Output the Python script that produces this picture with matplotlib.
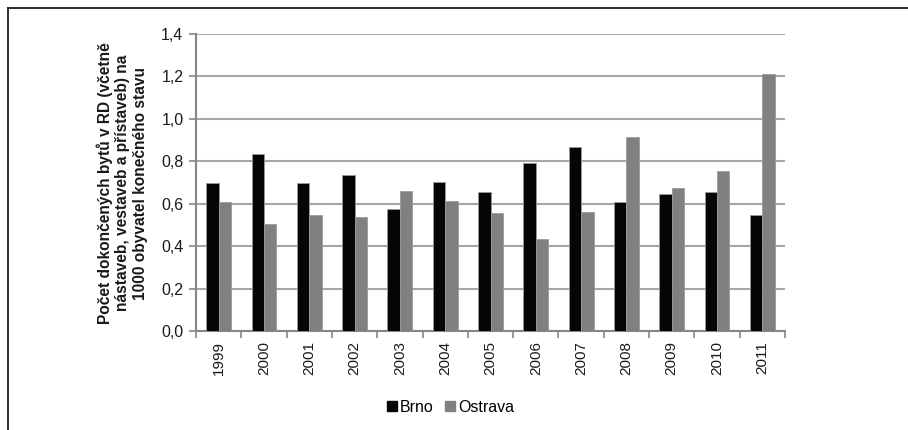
import numpy as np
import matplotlib.pyplot as plt
from matplotlib.lines import Line2D

plt.rcParams['font.family'] = ['Liberation Sans', 'DejaVu Sans']

# Počet dokončených bytů v RD na 1000 obyvatel
roky = ['1999', '2000', '2001', '2002', '2003', '2004', '2005',
        '2006', '2007', '2008', '2009', '2010', '2011']
brno = [0.70, 0.832, 0.70, 0.735, 0.573, 0.703, 0.656,
        0.790, 0.868, 0.609, 0.644, 0.656, 0.548]
ostrava = [0.609, 0.505, 0.546, 0.537, 0.659, 0.612, 0.557,
           0.434, 0.559, 0.916, 0.675, 0.754, 1.211]
y_ticks = [0.0, 0.2, 0.4, 0.6, 0.8, 1.0, 1.2, 1.4]

W, H = 908, 430
fig = plt.figure(figsize=(W / 100, H / 100), dpi=100)
ax = fig.add_axes([196 / W, 1 - 331 / H, (785 - 196) / W, (331 - 34) / H])

x = np.arange(len(roky))
bw = 0.275
ax.bar(x - bw / 2, brno, bw, color='#050505', edgecolor='#9a9a9a', linewidth=0.6,
       zorder=3, label='Brno')
ax.bar(x + bw / 2, ostrava, bw, color='#808080', edgecolor='#9a9a9a', linewidth=0.6,
       zorder=3, label='Ostrava')

ax.set_xlim(-0.5, len(roky) - 0.5)
ax.set_ylim(0, 1.4)
ax.set_yticks(y_ticks)
ax.set_yticklabels([f'{v:.1f}'.replace('.', ',') for v in y_ticks], fontsize=11.5,
                   color='#1a1a1a')
ax.yaxis.grid(True, color='#a6a6a6', linewidth=1.5, zorder=0)

# popisky let, rysky mezi kategoriemi
ax.set_xticks(x)
ax.set_xticklabels(roky, rotation=90, fontsize=11, color='#1a1a1a')
ax.tick_params(axis='x', length=0, pad=7)
ax.set_xticks(np.arange(-0.5, len(roky)), minor=True)
ax.tick_params(axis='x', which='minor', length=5, color='#868686', width=1.2)
ax.tick_params(axis='y', length=5, color='#868686', width=1.2, pad=4)

for side in ['top', 'right']:
    ax.spines[side].set_visible(False)
for side in ['left', 'bottom']:
    ax.spines[side].set_color('#868686')
    ax.spines[side].set_linewidth(1.5)

fig.text(122 / W, 1 - 183 / H,
         'Počet dokončených bytů v RD (včetně\nnástaveb, vestaveb a přístaveb) na\n1000 obyvatel konečného stavu',
         rotation=90, ha='center', va='center', fontsize=11.2, fontweight='bold',
         color='#1a1a1a', linespacing=1.2, multialignment='center')

handles = [Line2D([], [], marker='s', linestyle='', color='#050505', markersize=6.5),
           Line2D([], [], marker='s', linestyle='', color='#808080', markersize=6.5)]
fig.legend(handles, ['Brno', 'Ostrava'], loc='center', bbox_to_anchor=(449 / W, 1 - 407 / H),
           ncol=2, frameon=False, fontsize=11.5, handletextpad=0.0, columnspacing=0.5,
           handlelength=1.0)

# rámeček grafu (horní a levá hrana)
fig.add_artist(Line2D([8 / W, 1], [1 - 8 / H, 1 - 8 / H], color='#1e1e1e', linewidth=1.3))
fig.add_artist(Line2D([8 / W, 8 / W], [0, 1 - 8 / H], color='#1e1e1e', linewidth=1.3))

fig.savefig('out.png', dpi=100)
